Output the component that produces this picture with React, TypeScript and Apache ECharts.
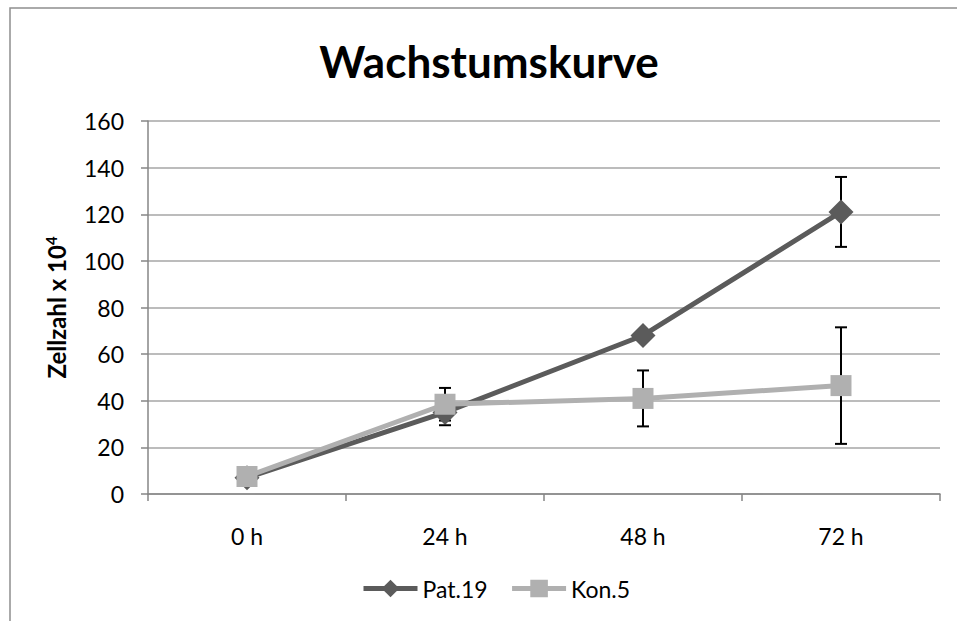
import React, { useEffect, useRef } from "react";
import * as echarts from "echarts";

const categories = ["0 h", "24 h", "48 h", "72 h"];
const patValues = [7, 35, 68, 121];
const patErrors = [1, 5.5, 2, 15];
const konValues = [7.5, 38.5, 41, 46.5];
const konErrors = [1, 7, 12, 25];
const seriesNames = ["Pat.19", "Kon.5"];
const titleText = "Wachstumskurve";
const FONT = "Lato, 'Noto Sans', sans-serif";
const PAT_COLOR = "#5b5b5b";
const KON_COLOR = "#b0b0b0";

function errorData(values: number[], errs: number[]) {
  return values.map((v, i) => [i, v - errs[i], v + errs[i]]);
}

function renderErrorBar(params: any, api: any) {
  const idx = api.value(0);
  const lo = api.coord([idx, api.value(1)]);
  const hi = api.coord([idx, api.value(2)]);
  const hw = 6;
  const style = { stroke: "#000", lineWidth: 2 };
  return {
    type: "group",
    children: [
      { type: "line", shape: { x1: lo[0], y1: lo[1], x2: hi[0], y2: hi[1] }, style },
      { type: "line", shape: { x1: lo[0] - hw, y1: lo[1], x2: lo[0] + hw, y2: lo[1] }, style },
      { type: "line", shape: { x1: hi[0] - hw, y1: hi[1], x2: hi[0] + hw, y2: hi[1] }, style },
    ],
  };
}

export default function App() {
  const ref = useRef<HTMLDivElement>(null);
  useEffect(() => {
    if (!ref.current) return;
    const chart = echarts.init(ref.current, null, { renderer: "svg" });
    chart.setOption({
      animation: false,
      backgroundColor: "#ffffff",
      textStyle: { fontFamily: FONT },
      graphic: [
        {
          type: "rect",
          shape: { x: 10, y: 8, width: 1000, height: 700 },
          style: { fill: "none", stroke: "#8f8f8f", lineWidth: 1.5 },
          z: -1,
        },
        {
          type: "text",
          x: 489,
          y: 61,
          style: {
            text: titleText,
            fontFamily: FONT,
            fontSize: 44,
            fontWeight: "bold",
            fill: "#000",
            textAlign: "center",
            textVerticalAlign: "middle",
          },
        },
      ],
      grid: { left: 148, right: 17, top: 121, bottom: 127, containLabel: false },
      legend: {
        data: seriesNames,
        left: 356,
        top: 572,
        itemWidth: 54,
        itemHeight: 22,
        itemGap: 22,
        lineStyle: { width: 5 },
        textStyle: { fontFamily: FONT, fontSize: 23, color: "#000" },
      },
      xAxis: {
        type: "category",
        data: categories,
        boundaryGap: true,
        axisLine: { lineStyle: { color: "#868686", width: 1.5 } },
        axisTick: { show: true, length: 7, inside: false, lineStyle: { color: "#868686", width: 1.5 } },
        axisLabel: { margin: 30, fontFamily: FONT, fontSize: 23, color: "#000" },
        splitLine: { show: false },
      },
      yAxis: {
        type: "value",
        min: 0,
        max: 160,
        interval: 20,
        name: "{a|Zellzahl x 10}{b|4}",
        nameLocation: "middle",
        nameRotate: 90,
        nameGap: 79,
        nameTextStyle: {
          rich: {
            a: { fontFamily: FONT, fontSize: 24, fontWeight: "bold", color: "#000" },
            b: { fontFamily: FONT, fontSize: 15, fontWeight: "bold", color: "#000", padding: [0, 0, 11, 0] },
          },
        },
        axisLine: { show: true, lineStyle: { color: "#868686", width: 1.5 } },
        axisTick: { show: true, length: 7, lineStyle: { color: "#868686", width: 1.5 } },
        axisLabel: { margin: 24, fontFamily: FONT, fontSize: 23, color: "#000" },
        splitLine: { show: true, lineStyle: { color: "#a6a6a6", width: 1.5 } },
      },
      series: [
        {
          type: "custom",
          name: "errPat",
          renderItem: renderErrorBar,
          data: errorData(patValues, patErrors),
          encode: { x: 0, y: [1, 2] },
          z: 1,
          silent: true,
        },
        {
          type: "custom",
          name: "errKon",
          renderItem: renderErrorBar,
          data: errorData(konValues, konErrors),
          encode: { x: 0, y: [1, 2] },
          z: 1,
          silent: true,
        },
        {
          type: "line",
          name: seriesNames[0],
          data: patValues,
          symbol: "diamond",
          symbolSize: 25,
          itemStyle: { color: PAT_COLOR },
          lineStyle: { color: PAT_COLOR, width: 5 },
          z: 2,
        },
        {
          type: "line",
          name: seriesNames[1],
          data: konValues,
          symbol: "rect",
          symbolSize: 21,
          itemStyle: { color: KON_COLOR },
          lineStyle: { color: KON_COLOR, width: 5 },
          z: 3,
        },
      ],
    });
    return () => chart.dispose();
  }, []);
  return (
    <div
      ref={ref}
      style={{ position: "absolute", left: 0, top: 0, width: 957, height: 621 }}
    />
  );
}
